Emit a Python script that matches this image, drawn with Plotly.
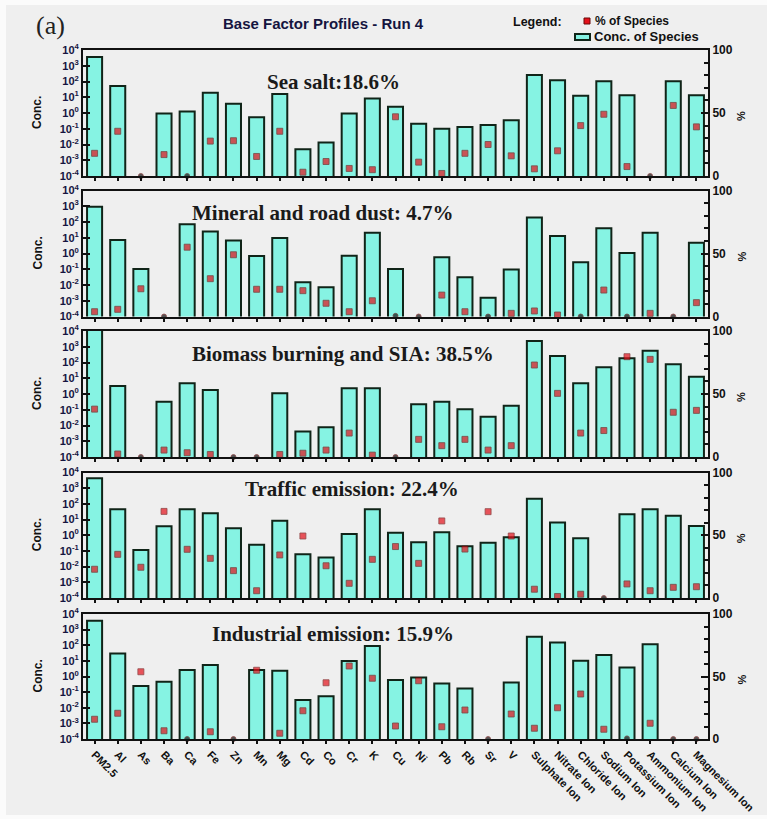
import plotly.graph_objects as go

# ---- species on the horizontal axis ----
species = ["PM2.5", "Al", "As", "Ba", "Ca", "Fe", "Zn", "Mn", "Mg", "Cd", "Co", "Cr", "K",
           "Cu", "Ni", "Pb", "Rb", "Sr", "V", "Sulphate Ion", "Nitrate Ion", "Chloride Ion",
           "Sodium Ion", "Potassium Ion", "Ammonium Ion", "Calcium Ion", "Magnesium Ion"]

factor_labels = ["Sea salt:18.6%", "Mineral and road dust: 4.7%",
                 "Biomass burning and SIA: 38.5%", "Traffic emission: 22.4%",
                 "Industrial emission: 15.9%"]

# ---- concentration of species (log axis), None = not resolved ----
sea_salt_conc = [3600, 51, None, 0.93, 1.25, 19.5, 3.8, 0.54, 16, 0.005, 0.0135, 0.93, 8.3,
                 2.45, 0.21, 0.10, 0.13, 0.17, 0.35, 260, 120, 12.3, 105, 13.5, None, 105, 13.5]
dust_conc = [930, 7.2, 0.105, None, 71, 24.5, 6.6, 0.69, 9.5, 0.0148, 0.0071, 0.72, 21,
             0.105, None, 0.575, 0.031, 0.00155, 0.095, 190, 12.9, 0.275, 40, 1.07, 21, None, 4.8]
biomass_conc = [12000, 3.2, None, 0.32, 4.8, 1.8, None, None, 1.1, 0.0041, 0.0078, 2.3, 2.3,
                None, 0.22, 0.32, 0.107, 0.036, 0.18, 2300, 260, 4.8, 50, 186, 560, 78, 12.6]
traffic_conc = [4300, 46, 0.115, 3.8, 46, 25, 2.8, 0.245, 8.5, 0.062, 0.038, 1.2, 46,
                1.45, 0.355, 1.55, 0.2, 0.33, 0.74, 210, 6.5, 0.65, None, 22, 45, 17.4, 3.9]
industrial_conc = [3700, 30, 0.25, 0.46, 2.6, 5.4, None, 2.6, 2.35, 0.031, 0.055, 9.8, 89,
                   0.59, 0.87, 0.36, 0.17, None, 0.42, 355, 148, 10.2, 23.4, 3.8, 115, None, None]

# ---- % of species apportioned to each factor ----
sea_salt_pct = [18, 35.5, 0, 17, 0, 27.7, 28, 15.5, 35.5, 3, 11.5, 6, 5, 47, 11, 2, 18, 25, 16,
                5.7, 20, 40, 49, 7.5, 0, 56, 39]
dust_pct = [3.8, 5.7, 22, 0, 55, 30, 49, 21.6, 21.6, 20.5, 10.5, 3.8, 12.5, 0.5, 0, 17, 3.8, 0,
            2.5, 4.4, 1.2, 0, 21, 0, 2.5, 0, 11]
biomass_pct = [38, 2.4, 0, 5.5, 3.4, 2, 0, 0, 2, 3, 5.5, 19, 1.5, 0, 14, 9, 14, 5.5, 9,
               73, 50.5, 19, 21, 79.6, 77.5, 35.5, 37]
traffic_pct = [22.9, 34.8, 24.5, 69, 38.8, 31.6, 21.8, 5.8, 34.3, 49.4, 25.7, 11.7, 30.8, 41,
               27.6, 61.4, 39, 68.8, 49.4, 7, 1.2, 3, 0, 11.2, 5.8, 8.5, 9]
industrial_pct = [15.8, 20.6, 53.8, 6.6, 0, 5.8, 0, 55, 4.6, 22.6, 45, 58.4, 48.6, 10.4, 46.6,
                  9.8, 23.2, 0, 20, 8.6, 25, 36, 7.8, 0.5, 12.6, 0, 0]

conc_series = [sea_salt_conc, dust_conc, biomass_conc, traffic_conc, industrial_conc]
pct_series = [sea_salt_pct, dust_pct, biomass_pct, traffic_pct, industrial_pct]

# ---- axis ticks ----
log_tick_vals = [1e-4, 1e-3, 1e-2, 1e-1, 1, 10, 100, 1e3, 1e4]
log_tick_text = ["10<sup>-4</sup>", "10<sup>-3</sup>", "10<sup>-2</sup>", "10<sup>-1</sup>",
                 "10<sup>0</sup>", "10<sup>1</sup>", "10<sup>2</sup>", "10<sup>3</sup>",
                 "10<sup>4</sup>"]
pct_tick_vals = [0, 50, 100]

# ---- page geometry (pixels) ----
W, H = 767, 819
PX_LEFT, PX_RIGHT = 83, 708
panels_px = [(50, 176), (190.5, 316.5), (331, 457), (472.5, 598), (614, 739)]
label_px = [(333, 82), (323, 213), (343, 354), (352, 489), (333, 634)]


def fx(x):
    return x / W


def fy(y):
    return 1 - y / H


def note(text, x, y, font, xanchor="center", angle=0):
    return dict(text=text, xref="paper", yref="paper", x=fx(x), y=fy(y),
                xanchor=xanchor, yanchor="middle", textangle=angle,
                showarrow=False, font=font)


BAR_FILL = "#86f3e3"
BAR_EDGE = "#102418"
RED = "#e5101a"
AXIS_FONT = dict(family="Liberation Sans", size=11, color="#15153f", weight="bold")
BOLD_SANS = dict(family="Liberation Sans", color="#111111", weight="bold")

fig = go.Figure()
layout = dict(
    width=W, height=H, autosize=False,
    margin=dict(l=0, r=0, t=0, b=0),
    paper_bgcolor="#fbfbfb", plot_bgcolor="rgba(0,0,0,0)",
    showlegend=False, bargap=0.35,
    annotations=[], shapes=[],
)

# grey sheet behind the chart
layout["shapes"].append(dict(type="rect", xref="paper", yref="paper", layer="below",
                             x0=fx(6), x1=fx(767), y0=fy(815), y1=fy(5),
                             fillcolor="#efefef", line=dict(width=0)))

for i in range(5):
    k = i + 1
    xa = "x" if k == 1 else f"x{k}"
    ya_main = 2 * k - 1
    ya_pct = 2 * k
    ya_main_name = "y" if ya_main == 1 else f"y{ya_main}"
    ya_pct_name = f"y{ya_pct}"
    top, bot = panels_px[i]

    fig.add_trace(go.Bar(
        x=species, y=conc_series[i], xaxis=xa, yaxis=ya_main_name,
        marker=dict(color=BAR_FILL, line=dict(color=BAR_EDGE, width=2)),
        name="Conc. of Species",
    ))
    pct = pct_series[i]
    colors = ["#111111" if p < 1 else RED for p in pct]
    symbols = ["circle" if p < 1 else "square" for p in pct]
    sizes = [5 if p < 1 else 6 for p in pct]
    fig.add_trace(go.Scatter(
        x=species, y=pct, xaxis=xa, yaxis=ya_pct_name, mode="markers", cliponaxis=False,
        marker=dict(color=colors, symbol=symbols, size=sizes,
                    line=dict(color="#6a0808", width=0.8)),
        name="% of Species",
    ))

    xkey = "xaxis" if k == 1 else f"xaxis{k}"
    layout[xkey] = dict(
        domain=[fx(PX_LEFT), fx(PX_RIGHT)], anchor=ya_main_name,
        type="category", categoryorder="array", categoryarray=species,
        range=[-0.5, len(species) - 0.5],
        showline=True, linewidth=2, linecolor="#111111", mirror=True,
        ticks="outside", ticklen=3, tickwidth=2, tickcolor="#111111",
        showticklabels=(k == 5), tickangle=45,
        tickfont=dict(BOLD_SANS, size=11),
        showgrid=False, zeroline=False, automargin=False,
    )
    ykey_main = "yaxis" if ya_main == 1 else f"yaxis{ya_main}"
    layout[ykey_main] = dict(
        domain=[fy(bot), fy(top)], anchor=xa, type="log", range=[-4, 4],
        tickmode="array", tickvals=log_tick_vals, ticktext=log_tick_text,
        ticks="inside", ticklen=7, tickwidth=2, tickcolor="#111111",
        tickfont=AXIS_FONT,
        showline=True, linewidth=2, linecolor="#111111", mirror=True,
        showgrid=False, zeroline=False, automargin=False,
    )
    layout[f"yaxis{ya_pct}"] = dict(
        domain=[fy(bot), fy(top)], anchor=xa, overlaying=ya_main_name, side="right",
        range=[0, 100], tickmode="array", tickvals=pct_tick_vals,
        ticks="inside", ticklen=7, tickwidth=2, tickcolor="#111111",
        minor=dict(dtick=10, ticks="inside", ticklen=4, tickwidth=1.5, tickcolor="#111111"),
        tickfont=dict(BOLD_SANS, size=12),
        showline=True, linewidth=2, linecolor="#111111",
        showgrid=False, zeroline=False, automargin=False,
    )

    mid = (top + bot) / 2
    layout["annotations"].append(note("Conc.", 37, mid, dict(BOLD_SANS, size=12), angle=-90))
    layout["annotations"].append(note("%", 741, mid + 3, dict(BOLD_SANS, size=11), angle=-90))
    lx, ly = label_px[i]
    layout["annotations"].append(note(
        factor_labels[i], lx, ly,
        dict(family="Liberation Serif", size=21, color="#1a1a1a", weight="bold")))

# header texts
layout["annotations"] += [
    note("(a)", 50, 25, dict(family="Liberation Serif", size=26, color="#222222")),
    note("Base Factor Profiles - Run 4", 323, 23,
         dict(family="Liberation Sans", size=15, color="#15153f", weight="bold")),
    note("Legend:", 537, 22, dict(BOLD_SANS, size=12.5)),
    note("% of Species", 593, 21, dict(BOLD_SANS, size=12), xanchor="left"),
    note("Conc. of Species", 592, 37, dict(BOLD_SANS, size=13), xanchor="left"),
]
# legend keys
layout["shapes"] += [
    dict(type="rect", xref="paper", yref="paper", x0=fx(584), x1=fx(590), y0=fy(24), y1=fy(18),
         fillcolor=RED, line=dict(color="#6a0808", width=1)),
    dict(type="rect", xref="paper", yref="paper", x0=fx(575), x1=fx(590), y0=fy(40), y1=fy(34),
         fillcolor=BAR_FILL, line=dict(color=BAR_EDGE, width=2)),
]

fig.update_layout(**layout)
fig.write_html("out.html")
